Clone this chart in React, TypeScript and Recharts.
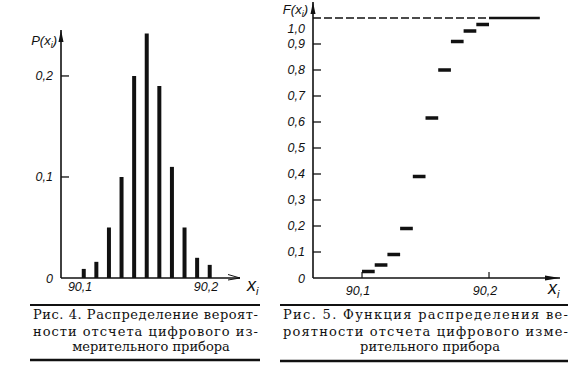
import React from 'react';
import { BarChart, Bar, LineChart, Line, XAxis, YAxis, ReferenceLine, ReferenceDot } from 'recharts';

// readings of the digital instrument, x_i
const xValues = [90.1, 90.11, 90.12, 90.13, 90.14, 90.15, 90.16, 90.17, 90.18, 90.19, 90.2];
// Рис. 4 — P(x_i)
const probabilities = [0.009, 0.016, 0.05, 0.1, 0.2, 0.242, 0.19, 0.11, 0.05, 0.02, 0.013];
// Рис. 5 — F(x_i)
const cumulative = [0.025, 0.05, 0.09, 0.19, 0.39, 0.615, 0.8, 0.91, 0.95, 0.975, 1.0];
const lastStepEnd = 90.24;

const pTicks = [0, 0.1, 0.2];
const fTicks = [0, 0.1, 0.2, 0.3, 0.4, 0.5, 0.6, 0.7, 0.8, 0.9, 1.0];
const xTicks = [90.1, 90.2];

const pDomain = [90.0817, 90.2238];
const fDomain = [90.0614, 90.2559];

const ink = '#111';
const axisFont = { fontFamily: '"Liberation Sans", Arial, sans-serif', fontStyle: 'italic', fontSize: 12.5 };

const fmt = (v: number) => (v === 0 ? '0' : v.toFixed(1).replace('.', ','));

const barData = xValues.map((x, i) => ({ x, p: probabilities[i] }));

const stepData = cumulative.slice(0, -1).flatMap((f, i) => [
  { x: xValues[i], F: f },
  { x: xValues[i + 1], F: f },
  { x: xValues[i + 1], F: null },
]);
const tailData = [
  { x: xValues[xValues.length - 1], F: cumulative[cumulative.length - 1] },
  { x: lastStepEnd, F: cumulative[cumulative.length - 1] },
];

function YTick(props: any) {
  const { x, y, payload } = props;
  const v = payload.value;
  const isTop = props.topValue !== undefined && v === props.topValue;
  return (
    <g>
      {v > 0 && !isTop && <line x1={x} x2={x + 8} y1={y} y2={y} stroke={ink} strokeWidth={1.3} />}
      <text x={x - 8} y={y} dy={isTop ? 15 : 4.5} textAnchor="end" fill={ink} {...axisFont}>
        {fmt(v)}
      </text>
    </g>
  );
}

function XTick(props: any) {
  const { x, y, payload, withMark, dy } = props;
  return (
    <g>
      {withMark && <line x1={x} x2={x} y1={y} y2={y - 6} stroke={ink} strokeWidth={1.2} />}
      <text x={x - 4} y={y + dy} textAnchor="middle" fill={ink} {...axisFont}>
        {payload.value.toFixed(1).replace('.', ',')}
      </text>
    </g>
  );
}

const upArrow = (p: any) => (
  <path d={`M${p.cx},${p.cy} L${p.cx - 2.5},${p.cy + 12} L${p.cx + 2.5},${p.cy + 12} Z`} fill={ink} />
);
const rightArrowOpen = (p: any) => (
  <path d={`M${p.cx - 12},${p.cy - 3.5} L${p.cx},${p.cy} L${p.cx - 12},${p.cy + 2}`} fill="none" stroke={ink} strokeWidth={1} />
);
const rightArrowFilled = (p: any) => (
  <path d={`M${p.cx},${p.cy} L${p.cx - 15},${p.cy - 2.5} L${p.cx - 15},${p.cy + 2.5} Z`} fill={ink} />
);

const varLabel = (name: string, dx: number, dy: number) => (props: any) => {
  const vb = props.viewBox;
  return (
    <text x={vb.x + vb.width + dx} y={vb.y + dy} textAnchor="end" fill={ink} {...axisFont} fontSize={13}>
      {name}(x<tspan fontSize={9} dy={3}>i</tspan>
      <tspan dy={-3}>)</tspan>
    </text>
  );
};

const xiLabel = (dx: number, dy: number) => (props: any) => {
  const vb = props.viewBox;
  return (
    <text x={vb.x + vb.width + dx} y={vb.y + dy} fill={ink} {...axisFont} fontSize={18}>
      x<tspan fontSize={11} dy={4}>i</tspan>
    </text>
  );
};

const axisLine = { stroke: ink, strokeWidth: 1.6 };

const captionFont = { fontFamily: '"DejaVu Serif", serif', fontSize: 13, fill: ink };

export default function App() {
  return (
    <div style={{ position: 'absolute', left: 0, top: 0, width: 588, height: 365, background: '#fff' }}>
      <div style={{ position: 'absolute', left: 0, top: 0 }}>
        <BarChart width={270} height={300} data={barData} margin={{ top: 30, right: 30, bottom: 0, left: 21 }}>
          <XAxis
            dataKey="x"
            type="number"
            domain={pDomain}
            allowDataOverflow
            ticks={xTicks}
            interval={0}
            height={22}
            tickSize={0}
            tickMargin={0}
            tickLine={false}
            axisLine={axisLine}
            tick={<XTick dy={13} />}
            label={{ content: xiLabel(7, 13) }}
          />
          <YAxis
            type="number"
            domain={[0, 0.2455]}
            allowDataOverflow
            ticks={pTicks}
            interval={0}
            width={40}
            tickSize={0}
            tickMargin={0}
            tickLine={false}
            axisLine={axisLine}
            tick={<YTick />}
            label={{ content: varLabel('P', -4, 15) }}
          />
          <Bar dataKey="p" fill={ink} barSize={4} isAnimationActive={false} />
          <ReferenceDot x={pDomain[0]} y={0.2455} ifOverflow="visible" shape={upArrow} />
          <ReferenceDot x={pDomain[1]} y={0} ifOverflow="visible" shape={rightArrowOpen} />
        </BarChart>
      </div>

      <div style={{ position: 'absolute', left: 270, top: 0 }}>
        <LineChart width={318} height={300} margin={{ top: 2, right: 28, bottom: 0, left: 3 }}>
          <XAxis
            dataKey="x"
            type="number"
            domain={fDomain}
            allowDataOverflow
            ticks={xTicks}
            interval={0}
            height={22}
            tickSize={0}
            tickMargin={0}
            tickLine={false}
            axisLine={axisLine}
            tick={<XTick withMark dy={17} />}
            label={{ content: xiLabel(-12, 16) }}
          />
          <YAxis
            type="number"
            domain={[0, 1.0615]}
            allowDataOverflow
            ticks={fTicks}
            interval={0}
            width={40}
            tickSize={0}
            tickMargin={0}
            tickLine={false}
            axisLine={axisLine}
            tick={<YTick topValue={1} />}
            label={{ content: varLabel('F', -5, 12) }}
          />
          <ReferenceLine
            segment={[{ x: fDomain[0], y: 1 }, { x: xValues[xValues.length - 1], y: 1 }]}
            stroke={ink}
            strokeWidth={1.3}
            strokeDasharray="8 3"
          />
          <Line
            data={stepData}
            dataKey="F"
            stroke={ink}
            strokeWidth={3.5}
            strokeLinecap="butt"
            dot={false}
            connectNulls={false}
            isAnimationActive={false}
          />
          <Line
            data={tailData}
            dataKey="F"
            stroke={ink}
            strokeWidth={2.5}
            dot={false}
            isAnimationActive={false}
          />
          <ReferenceDot x={fDomain[0]} y={1.0615} ifOverflow="visible" shape={upArrow} />
          <ReferenceDot x={fDomain[1]} y={0} ifOverflow="visible" shape={rightArrowFilled} />
        </LineChart>
      </div>

      <svg width={588} height={365} style={{ position: 'absolute', left: 0, top: 0 }}>
        <line x1={30} x2={260} y1={305} y2={305} stroke={ink} strokeWidth={2} />
        <line x1={30} x2={260} y1={360} y2={360} stroke={ink} strokeWidth={2.5} />
        <line x1={280} x2={568} y1={305} y2={305} stroke={ink} strokeWidth={2} />
        <line x1={280} x2={568} y1={361} y2={361} stroke={ink} strokeWidth={2.5} />

        <text x={33} y={319} textLength={225} lengthAdjust="spacing" {...captionFont}>
          Рис. 4. Распределение вероят-
        </text>
        <text x={33} y={336} textLength={225} lengthAdjust="spacing" {...captionFont}>
          ности отсчета цифрового из-
        </text>
        <text x={151} y={351} textAnchor="middle" {...captionFont}>
          мерительного прибора
        </text>

        <text x={283} y={319} textLength={285} lengthAdjust="spacing" {...captionFont}>
          Рис. 5. Функция распределения ве-
        </text>
        <text x={283} y={336} textLength={285} lengthAdjust="spacing" {...captionFont}>
          роятности отсчета цифрового изме-
        </text>
        <text x={430} y={351} textAnchor="middle" {...captionFont}>
          рительного прибора
        </text>
      </svg>
    </div>
  );
}
